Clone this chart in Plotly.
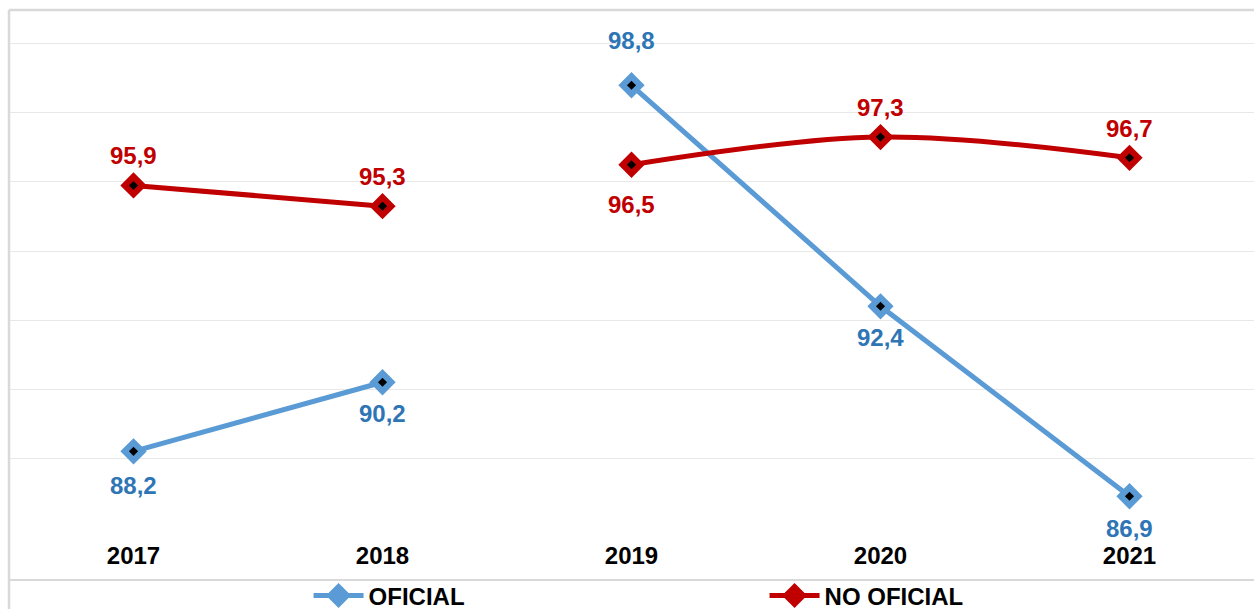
import plotly.graph_objects as go

# data
years = ["2017", "2018", "2019", "2020", "2021"]
oficial = [88.2, 90.2, 98.8, 92.4, 86.9]
no_oficial = [95.9, 95.3, 96.5, 97.3, 96.7]
# the lines are broken between 2018 and 2019
segments = [(0, 2), (2, 5)]

# label offsets in px (positive = above the point)
shift_oficial = [-34, -31, 45, -31, -32]
shift_no_oficial = [30, 30, -40, 30, 29]

FONT = "Liberation Sans, Arial, sans-serif"
BLUE_LINE = "#5B9BD5"
BLUE_TEXT = "#2E75B6"
RED = "#C00000"
BORDER = "#D9D9D9"

series = [
    ("OFICIAL", oficial, shift_oficial, BLUE_LINE, BLUE_TEXT, "linear"),
    ("NO OFICIAL", no_oficial, shift_no_oficial, RED, RED, "spline"),
]

fig = go.Figure()
annotations = []

for name, vals, shifts, line_col, text_col, shape in series:
    for i, (a, b) in enumerate(segments):
        fig.add_trace(go.Scatter(
            x=years[a:b], y=vals[a:b], name=name, legendgroup=name,
            showlegend=(i == 0), mode="lines+markers",
            line=dict(color=line_col, width=5, shape=shape),
            marker=dict(symbol="diamond", size=17, color=line_col,
                        line=dict(color=line_col, width=3)),
            hoverinfo="skip",
        ))
    # little black diamond in the middle of each marker
    fig.add_trace(go.Scatter(
        x=years, y=vals, mode="markers", showlegend=False, hoverinfo="skip",
        marker=dict(symbol="diamond", size=7, color="black"),
    ))
    # numeric-looking category names get read as indices, so place by index
    for idx, (v, s) in enumerate(zip(vals, shifts)):
        annotations.append(dict(
            x=idx, y=v, xref="x", yref="y", showarrow=False,
            text="<b>" + f"{v:.1f}".replace(".", ",") + "</b>",
            font=dict(family=FONT, size=24, color=text_col),
            yshift=s,
        ))

shapes = [
    # outer frame pieces
    dict(type="line", xref="paper", yref="paper", x0=0, x1=1.01, y0=1.0, y1=1.0,
         line=dict(color=BORDER, width=2.5)),
    dict(type="line", xref="paper", yref="paper", x0=0, x1=0, y0=1.0, y1=-0.16,
         line=dict(color=BORDER, width=2.5)),
    dict(type="line", xref="paper", yref="paper", x0=0, x1=1.01, y0=-0.1004, y1=-0.1004,
         line=dict(color=BORDER, width=2)),
]

fig.update_layout(
    width=1254, height=609,
    margin=dict(l=9, r=0, t=10, b=81, autoexpand=False),
    paper_bgcolor="white", plot_bgcolor="white",
    font=dict(family=FONT, size=24, color="black"),
    showlegend=True,
    legend=dict(
        orientation="h", x=0.2406, xanchor="left", y=-0.131, yanchor="middle",
        font=dict(family=FONT, size=24, color="black", weight="bold"),
        entrywidth=391, entrywidthmode="pixels", itemwidth=50,
        bgcolor="rgba(0,0,0,0)",
    ),
    annotations=annotations,
    shapes=shapes,
)

fig.update_xaxes(
    type="category", range=[-0.5, 4.5], showgrid=False, showline=False,
    zeroline=False, ticks="outside", ticklen=6, tickcolor="rgba(0,0,0,0)",
    tickfont=dict(family=FONT, size=24, color="black", weight="bold"),
)
fig.update_yaxes(
    range=[85.98, 100.98], tick0=86, dtick=2, showticklabels=False,
    showgrid=True, gridcolor="#E8E8E8", gridwidth=1, zeroline=False,
    showline=False,
)

fig.write_html("out.html", config={"displayModeBar": False},
               post_script="document.body.style.margin='0';")
